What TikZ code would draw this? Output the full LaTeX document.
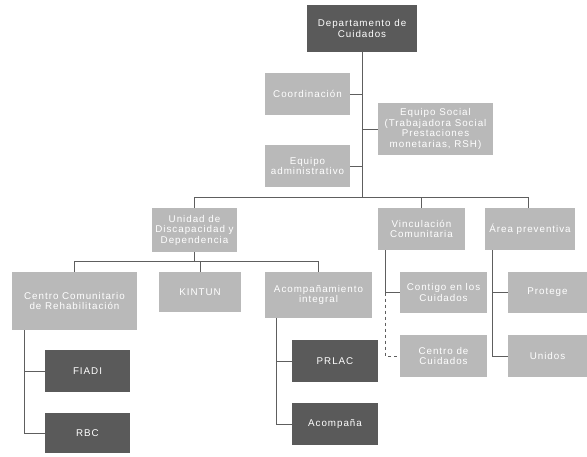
\documentclass[tikz,border=0pt]{standalone}
\usepackage{fontspec}
\newfontfamily\boxfont[LetterSpace=10]{Liberation Sans}
\usetikzlibrary{calc}
\definecolor{darkbox}{HTML}{5A5A5A}
\definecolor{lightbox}{HTML}{B9B9B9}
\definecolor{linegray}{HTML}{5E5E5E}

\begin{document}
\begin{tikzpicture}[x=1pt,y=-1pt,
	dark_node/.style={rectangle,fill=darkbox,text=white,font=\boxfont\fontsize{9.8}{10.5}\selectfont,align=center,inner sep=1pt},
	light_node/.style={rectangle,fill=lightbox,text=white,font=\boxfont\fontsize{9.8}{10.5}\selectfont,align=center,inner sep=1pt},
	link/.style={draw=linegray,line width=0.7pt}]

		\useasboundingbox (0,0) rectangle (587,456);

		\node[dark_node,minimum width=110pt,minimum height=47pt] (dept) at (362,28.5) {Departamento de\\Cuidados};
		\node[light_node,minimum width=85pt,minimum height=42pt] (coord) at (307.5,94) {Coordinación};
		\node[light_node,minimum width=115pt,minimum height=52pt] (social) at (435.5,129) {Equipo Social\\(Trabajadora Social\\Prestaciones\\monetarias, RSH)};
		\node[light_node,minimum width=85pt,minimum height=42pt] (admin) at (307.5,166) {Equipo\\administrativo};

		\node[light_node,minimum width=85pt,minimum height=44pt] (unidad) at (194.5,230) {Unidad de\\Discapacidad y\\Dependencia};
		\node[light_node,minimum width=87pt,minimum height=42pt] (vinc) at (421.5,229) {Vinculación\\Comunitaria};
		\node[light_node,minimum width=90pt,minimum height=42pt] (area) at (530,229) {Área preventiva};

		\node[light_node,minimum width=125pt,minimum height=58pt] (centro) at (74.5,301) {Centro Comunitario\\de Rehabilitación};
		\node[light_node,minimum width=82pt,minimum height=40pt] (kintun) at (200,292) {KINTUN};
		\node[light_node,minimum width=107pt,minimum height=46pt] (acomp) at (318.5,295) {Acompañamiento\\integral};
		\node[light_node,minimum width=87pt,minimum height=41pt] (contigo) at (443.5,292.5) {Contigo en los\\Cuidados};
		\node[light_node,minimum width=79pt,minimum height=41pt] (protege) at (547.5,292.5) {Protege};
		\node[light_node,minimum width=87pt,minimum height=42pt] (ccuid) at (443.5,356) {Centro de\\Cuidados};
		\node[light_node,minimum width=79pt,minimum height=42pt] (unidos) at (547.5,356) {Unidos};

		\node[dark_node,minimum width=85pt,minimum height=42pt] (fiadi) at (87.5,371) {FIADI};
		\node[dark_node,minimum width=85pt,minimum height=40pt] (rbc) at (87.5,433) {RBC};
		\node[dark_node,minimum width=86pt,minimum height=42pt] (prlac) at (335,361) {PRLAC};
		\node[dark_node,minimum width=86pt,minimum height=42pt] (acompana) at (335,424) {Acompaña};

		\coordinate (bus) at (362,197);
		\coordinate (bus2) at (194.5,261);
		\coordinate (drop_area) at (528,208);
		\coordinate (c1) at ($(centro.south west)+(13,0)$);
		\coordinate (c2) at ($(acomp.south west)+(12,0)$);
		\coordinate (c3) at ($(vinc.south west)+(8,0)$);
		\coordinate (c4) at ($(area.south west)+(8,0)$);

		\draw[link] (dept) -- (bus);
		\draw[link] (coord) -- (coord -| bus);
		\draw[link] (admin) -- (admin -| bus);
		\draw[link] (social) -- (social -| bus);
		\draw[link] (unidad) |- (bus);
		\draw[link] (drop_area) |- (bus);
		\draw[link] (vinc) -- (vinc |- bus);
		\draw[link] (unidad) -- (bus2);
		\draw[link] (centro) |- (bus2);
		\draw[link] (acomp) |- (bus2);
		\draw[link] (kintun) -- (kintun |- bus2);
		\draw[link] (c1) |- (fiadi);
		\draw[link] (c1) |- (rbc);
		\draw[link] (c2) |- (prlac);
		\draw[link] (c2) |- (acompana);
		\draw[link] (c3) |- (contigo);
		\draw[link,dashed] (c3 |- contigo.west) |- (ccuid);
		\draw[link] (c4) |- (protege);
		\draw[link] (c4) |- (unidos);
		\end{tikzpicture}
\end{document}
